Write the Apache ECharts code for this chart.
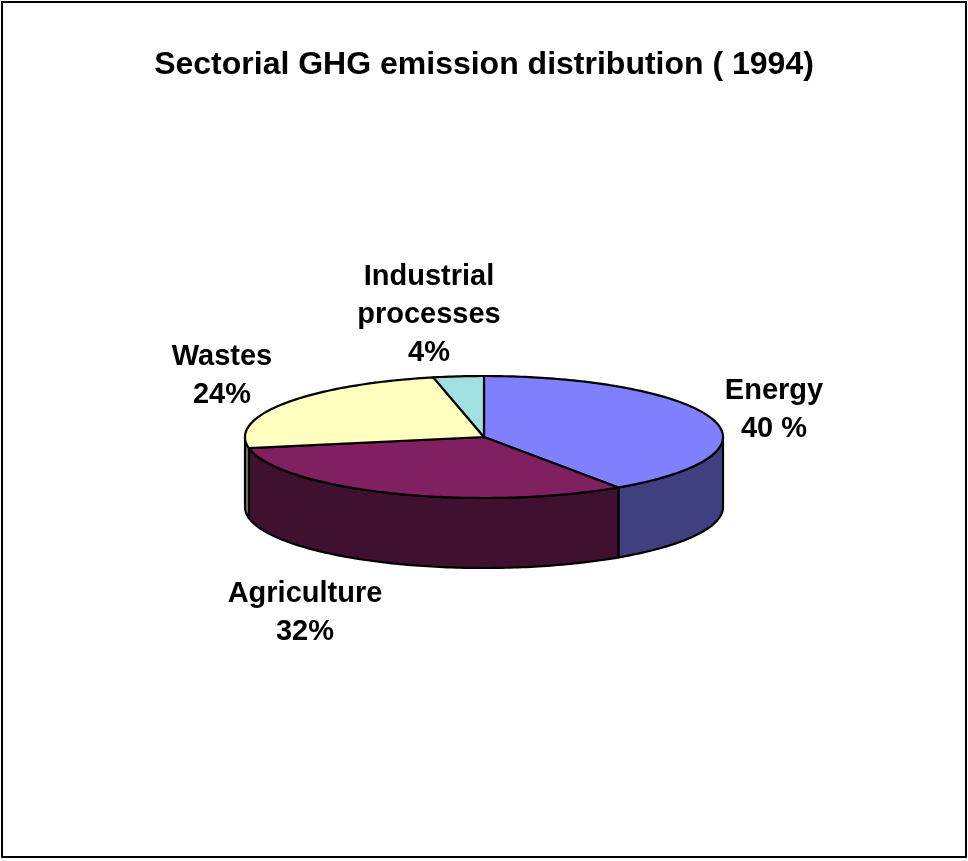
<!DOCTYPE html>
<html>
<head>
<meta charset="utf-8">
<script src="https://cdn.jsdelivr.net/npm/echarts@6/dist/echarts.min.js"></script>
<style>
  html, body { margin: 0; padding: 0; background: #fff; }
  #chart { width: 968px; height: 861px; }
</style>
</head>
<body>
<div id="chart"></div>
<script>
const categories = ['Energy', 'Agriculture', 'Wastes', 'Industrial processes'];
const shares = [40.5, 31.6, 24.5, 3.4];
const labelTexts = ['Energy\n40 %', 'Agriculture\n32%', 'Wastes\n24%', 'Industrial\nprocesses\n4%'];
const topColors = ['#8080FF', '#802060', '#FFFFC0', '#A0E0E0'];
const sideColors = ['#404080', '#401030', '#808060', '#507070'];

const FONT = 'Liberation Sans, Arial, sans-serif';

// pie geometry (ellipse seen in perspective)
const cx = 484, cy = 437, rx = 239, ry = 61, depth = 70;
// where the labels sit (block centres)
const labelPos = [[774, 410], [305, 613], [222, 376], [429, 315]];

const total = shares.reduce((a, b) => a + b, 0);

function pt(deg, dy) {
    const t = deg * Math.PI / 180;
    return [cx + rx * Math.cos(t), cy + ry * Math.sin(t) + (dy || 0)];
}

function arc(a, b, dy) {
    const pts = [];
    const n = Math.max(2, Math.ceil(Math.abs(b - a)));
    for (let i = 0; i <= n; i++) {
        pts.push(pt(a + (b - a) * i / n, dy));
    }
    return pts;
}

function renderSlice(params, api) {
    const idx = params.dataIndex;
    let before = 0;
    for (let i = 0; i < idx; i++) before += shares[i];
    const a = 270 + before / total * 360;
    const b = a + api.value(0) / total * 360;

    const children = [];
    // front side walls
    [0, 360].forEach(function (k) {
        const lo = Math.max(a, k), hi = Math.min(b, k + 180);
        if (lo < hi) {
            const pts = arc(lo, hi, 0).concat(arc(hi, lo, depth));
            children.push({
                type: 'polygon',
                shape: { points: pts },
                style: { fill: sideColors[idx], stroke: '#000', lineWidth: 2.2, lineJoin: 'round' }
            });
        }
    });
    // top face
    const top = [[cx, cy]].concat(arc(a, b, 0));
    children.push({
        type: 'polygon',
        shape: { points: top },
        style: { fill: topColors[idx], stroke: '#000', lineWidth: 2.2, lineJoin: 'round' }
    });
    return { type: 'group', children: children };
}

const chart = echarts.init(document.getElementById('chart'), null, { renderer: 'canvas' });

const labelGraphics = labelTexts.map(function (txt, i) {
    return {
        type: 'text',
        x: labelPos[i][0],
        y: labelPos[i][1],
        style: {
            text: txt,
            fill: '#000',
            font: 'bold 29px ' + FONT,
            lineHeight: 38,
            align: 'center',
            verticalAlign: 'middle'
        }
    };
});

chart.setOption({
    animation: false,
    backgroundColor: '#fff',
    graphic: [
        {
            type: 'rect',
            shape: { x: 2, y: 2, width: 964, height: 855 },
            style: { fill: null, stroke: '#000', lineWidth: 2 }
        },
        {
            type: 'text',
            x: 484,
            y: 65,
            style: {
                text: 'Sectorial GHG emission distribution ( 1994)',
                fill: '#000',
                font: 'bold 32px ' + FONT,
                align: 'center',
                verticalAlign: 'middle'
            }
        }
    ].concat(labelGraphics),
    series: [{
        type: 'custom',
        coordinateSystem: 'none',
        silent: true,
        data: shares.map(function (v, i) { return { name: categories[i], value: [v, i] }; }),
        renderItem: renderSlice
    }]
});
</script>
</body>
</html>
